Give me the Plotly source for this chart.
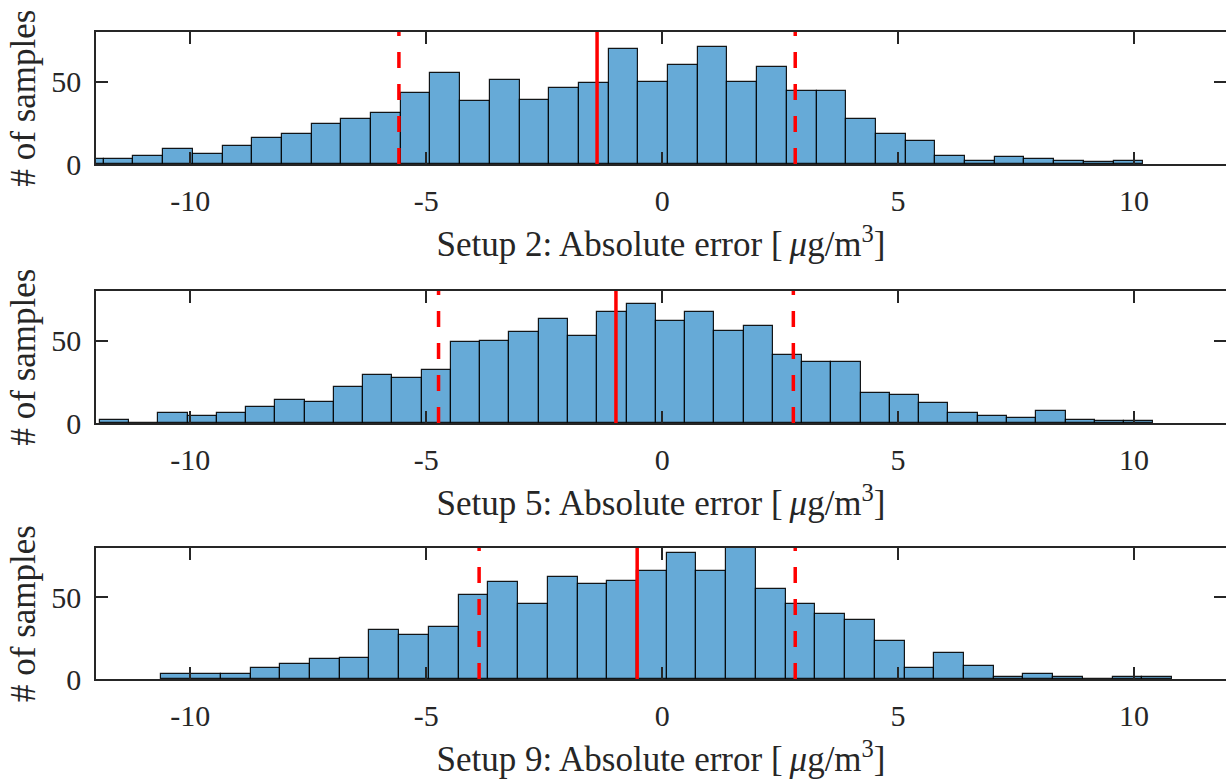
import plotly.graph_objects as go

# ---------------- data ----------------
# Panel 1: Setup 2
setup2_bin_start = -12.466
setup2_bin_width = 0.6295
setup2_counts = [3, 3, 5, 9, 6, 11, 16, 18, 24, 27, 31, 43, 55, 38, 51, 39, 46, 49,
                 70, 50, 60, 71, 50, 59, 44, 44, 27, 18, 14, 5, 2, 4, 3, 2, 1, 2]
setup2_mean = -1.38
setup2_std = 4.20

# Panel 2: Setup 5
setup5_bin_start = -11.921
setup5_bin_width = 0.6203
setup5_counts = [2, 0, 6, 4, 6, 10, 14, 13, 22, 29, 27, 32, 49, 50, 55, 63, 53, 67,
                 72, 62, 67, 56, 59, 41, 37, 37, 18, 17, 12, 6, 4, 3, 7, 2, 1, 1]
setup5_mean = -0.98
setup5_std = 3.76

# Panel 3: Setup 9
setup9_bin_start = -10.614
setup9_bin_width = 0.630
setup9_counts = [3, 3, 3, 7, 9, 12, 13, 30, 27, 32, 51, 59, 46, 62, 58, 60, 66, 77,
                 66, 80, 55, 46, 40, 36, 23, 7, 16, 8, 1, 3, 1, 0, 1, 1]
setup9_mean = -0.53
setup9_std = 3.35

setup_names = ["Setup 2", "Setup 5", "Setup 9"]
x_tick_values = [-10, -5, 0, 5, 10]
x_tick_labels = ["-10", "-5", "0", "5", "10"]
y_tick_values = [0, 50]
y_tick_labels = ["0", "50"]
x_range = [-12, 11.95]
y_range = [0, 80]

# ---------------- styling ----------------
FONT = "Liberation Serif, Times New Roman, serif"
AX_COLOR = "#262626"
BAR_COLOR = "rgb(102,170,215)"
TICK_SIZE = 30
TITLE_SIZE = 35

panels = [
    (setup2_bin_start, setup2_bin_width, setup2_counts, setup2_mean, setup2_std),
    (setup5_bin_start, setup5_bin_width, setup5_counts, setup5_mean, setup5_std),
    (setup9_bin_start, setup9_bin_width, setup9_counts, setup9_mean, setup9_std),
]

H = 780.0
rows_px = [(32, 164), (291, 423), (548, 679)]

fig = go.Figure()
layout = dict(
    width=1226, height=780,
    margin=dict(l=96, r=0, t=0, b=0),
    paper_bgcolor="white", plot_bgcolor="white",
    showlegend=False,
    font=dict(family=FONT, color=AX_COLOR, size=TICK_SIZE),
    bargap=0,
)

for i, (start, width, counts, mean, std) in enumerate(panels):
    n = i + 1
    xa = "x" if n == 1 else f"x{n}"
    ya = "y" if n == 1 else f"y{n}"
    centers = [start + width * (k + 0.5) for k in range(len(counts))]
    fig.add_trace(go.Bar(
        x=centers, y=counts, width=width,
        marker=dict(color=BAR_COLOR, line=dict(color="rgba(0,0,0,0.9)", width=1.2)),
        xaxis=xa, yaxis=ya, hoverinfo="x+y",
    ))
    fig.add_trace(go.Scatter(
        x=[mean, mean], y=y_range, mode="lines",
        line=dict(color="red", width=3.5), xaxis=xa, yaxis=ya,
    ))
    for v in (mean - std, mean + std):
        fig.add_trace(go.Scatter(
            x=[v, v], y=y_range, mode="lines",
            line=dict(color="red", width=3.5, dash="16px,16px"), xaxis=xa, yaxis=ya,
        ))

    top, bot = rows_px[i]
    dom = [1 - bot / H, 1 - top / H]
    axcommon = dict(
        showline=True, linecolor=AX_COLOR, linewidth=1.5, mirror="ticks",
        ticks="inside", ticklen=12, tickwidth=1.5, tickcolor=AX_COLOR,
        showgrid=False, zeroline=False, automargin=False,
        tickfont=dict(family=FONT, size=TICK_SIZE, color=AX_COLOR),
    )
    layout["xaxis" if n == 1 else f"xaxis{n}"] = dict(
        axcommon, range=x_range, domain=[0, 1], anchor=ya,
        tickvals=x_tick_values, ticktext=x_tick_labels,
        ticklabelstandoff=9,
        title=dict(text=f"{setup_names[i]}: Absolute error [\u2009<i>\u03bc</i>g/m<sup>3</sup>]",
                   font=dict(family=FONT, size=TITLE_SIZE, color=AX_COLOR), standoff=16),
    )
    layout["yaxis" if n == 1 else f"yaxis{n}"] = dict(
        axcommon, range=y_range, domain=dom, anchor=xa,
        tickvals=y_tick_values, ticktext=y_tick_labels,
        ticklabelstandoff=7,
        title=dict(text="# of samples",
                   font=dict(family=FONT, size=TITLE_SIZE, color=AX_COLOR), standoff=5),
    )

fig.update_layout(**layout)
fig.write_html("out.html")
